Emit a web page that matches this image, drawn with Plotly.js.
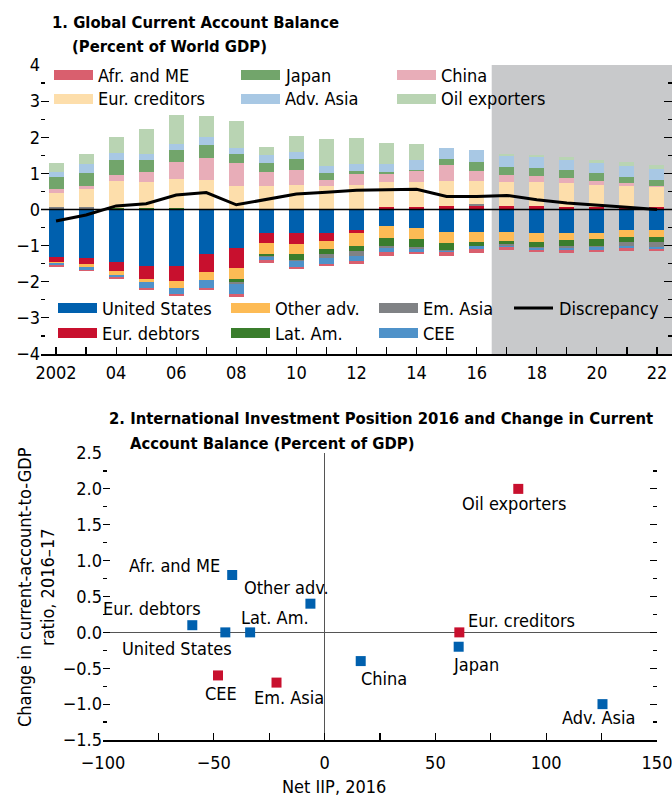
<!DOCTYPE html>
<html>
<head>
<meta charset="utf-8">
<script src="https://cdn.plot.ly/plotly-3.0.1.min.js"></script>
<style>html,body{margin:0;padding:0;background:#fff;}#chart{width:672px;height:797px;}</style>
</head>
<body>
<div id="chart"></div>
<script>
// ---------- Panel 1 data: Global current account balance (% of world GDP) ----------
const years = [2002,2003,2004,2005,2006,2007,2008,2009,2010,2011,2012,2013,2014,2015,2016,2017,2018,2019,2020,2021,2022];
const yearTickVals = [2002,2004,2006,2008,2010,2012,2014,2016,2018,2020,2022];
const yearTickText = ["2002","04","06","08","10","12","14","16","18","20","22"];

const unitedStates = [-1.32,-1.35,-1.46,-1.57,-1.57,-1.24,-1.07,-0.64,-0.66,-0.64,-0.58,-0.47,-0.50,-0.61,-0.61,-0.61,-0.64,-0.66,-0.64,-0.58,-0.58];
const eurDebtors   = [-0.13,-0.17,-0.23,-0.34,-0.42,-0.48,-0.54,-0.30,-0.30,-0.22,-0.06,0.06,0.08,0.11,0.11,0.11,0.11,0.08,0.06,0.06,0.06];
const otherAdv     = [-0.03,-0.08,-0.11,-0.11,-0.17,-0.22,-0.30,-0.30,-0.28,-0.22,-0.36,-0.33,-0.33,-0.33,-0.30,-0.25,-0.25,-0.19,-0.19,-0.19,-0.17];
const latAm        = [-0.01,0.00,0.03,0.05,0.05,0.01,-0.11,-0.06,-0.16,-0.16,-0.14,-0.22,-0.22,-0.18,-0.10,-0.10,-0.14,-0.17,-0.17,-0.14,-0.14];
const emAsia       = [0.06,0.08,0.02,0.00,0.00,0.00,-0.05,-0.02,-0.03,-0.09,-0.14,-0.05,-0.03,-0.03,0.03,-0.04,-0.03,-0.05,-0.05,-0.11,-0.14];
const cee          = [-0.05,-0.08,-0.08,-0.16,-0.18,-0.24,-0.26,-0.08,-0.17,-0.18,-0.14,-0.12,-0.10,-0.03,-0.08,-0.05,-0.05,-0.05,-0.07,-0.05,-0.05];
const afrME        = [-0.04,-0.01,-0.03,-0.04,-0.05,-0.04,-0.08,-0.08,-0.06,-0.06,-0.10,-0.10,-0.06,-0.11,-0.11,-0.07,-0.08,-0.08,-0.06,-0.07,-0.07];
const eurCreditors = [0.41,0.50,0.73,0.70,0.80,0.80,0.64,0.64,0.69,0.66,0.69,0.69,0.69,0.69,0.64,0.66,0.64,0.64,0.61,0.58,0.55];
const china        = [0.11,0.07,0.17,0.28,0.47,0.61,0.66,0.39,0.39,0.17,0.30,0.22,0.30,0.42,0.28,0.19,0.19,0.14,0.11,0.08,0.03];
const japan        = [0.33,0.37,0.42,0.33,0.33,0.36,0.25,0.25,0.33,0.19,0.08,0.06,0.03,0.19,0.25,0.22,0.22,0.22,0.22,0.19,0.19];
const advAsia      = [0.14,0.23,0.19,0.19,0.17,0.22,0.15,0.22,0.19,0.19,0.19,0.22,0.28,0.30,0.33,0.30,0.28,0.28,0.28,0.30,0.28];
const oilExporters = [0.23,0.30,0.44,0.69,0.80,0.58,0.74,0.22,0.44,0.75,0.72,0.58,0.42,0.00,0.00,0.06,0.08,0.08,0.10,0.10,0.11];
const discrepancy  = [-0.32,-0.15,0.10,0.16,0.40,0.47,0.13,0.27,0.43,0.48,0.53,0.55,0.56,0.36,0.36,0.39,0.27,0.18,0.11,0.06,0.00];
const projectionStart = 2016.5;

// ---------- Panel 2 data: Net IIP 2016 vs change in CA balance 2016-17 ----------
const groupNames = ["Oil exporters","Afr. and ME","Other adv.","Eur. debtors","United States","Lat. Am.","CEE","Em. Asia","China","Eur. creditors","Japan","Adv. Asia"];
const netIIP2016 = [87.4,-41.7,-6.4,-59.7,-44.8,-33.6,-48.1,-21.7,16.3,60.8,60.5,125.4];
const caChange   = [2.0,0.8,0.4,0.1,0.0,0.0,-0.6,-0.7,-0.4,0.0,-0.2,-1.0];
const redGroups  = ["Oil exporters","CEE","Em. Asia","Eur. creditors"];
const iipTickVals = [-100,-50,0,50,100,150];

// ---------- styles ----------
const W = 672, H = 797;
const FONT = "'DejaVu Sans Condensed','Liberation Sans Narrow',sans-serif";
const FS = 18;
const C = {
  us:'#0060ae', eurDeb:'#c8102e', otherAdv:'#fdbb55', latAm:'#3a7d2c', emAsia:'#808285',
  cee:'#4f92c9', afr:'#d95f6e', eurCred:'#fddeab', china:'#e8adb8', japan:'#72a56b',
  advAsia:'#a8c8e4', oil:'#b9d4b3', shade:'#c8c9cb'
};
const px = x => x / W;
const py = y => 1 - y / H;

const barSeries = [
  ['United States', unitedStates, C.us],
  ['Eur. debtors', eurDebtors, C.eurDeb],
  ['Other adv.', otherAdv, C.otherAdv],
  ['Lat. Am.', latAm, C.latAm],
  ['Em. Asia', emAsia, C.emAsia],
  ['CEE', cee, C.cee],
  ['Afr. and ME', afrME, C.afr],
  ['Eur. creditors', eurCreditors, C.eurCred],
  ['China', china, C.china],
  ['Japan', japan, C.japan],
  ['Adv. Asia', advAsia, C.advAsia],
  ['Oil exporters', oilExporters, C.oil]
];

const traces = barSeries.map(([name, vals, col]) => ({
  type:'bar', name:name, x:years, y:vals, width:0.5,
  marker:{color:col, line:{width:0}}, xaxis:'x', yaxis:'y', showlegend:false, hoverinfo:'name+y'
}));
traces.push({
  type:'scatter', mode:'lines', name:'Discrepancy', x:years, y:discrepancy,
  line:{color:'#000', width:3}, xaxis:'x', yaxis:'y', showlegend:false
});

function groupTrace(isRed){
  const xs=[], ys=[], ns=[];
  groupNames.forEach((n,i)=>{ if((redGroups.indexOf(n)>=0)===isRed){ xs.push(netIIP2016[i]); ys.push(caChange[i]); ns.push(n);} });
  return {type:'scatter', mode:'markers', x:xs, y:ys, text:ns, hoverinfo:'text+x+y',
    marker:{symbol:'square', size:10, color: isRed ? C.eurDeb : C.us, line:{width:0}},
    xaxis:'x2', yaxis:'y2', showlegend:false, cliponaxis:false};
}
traces.push(groupTrace(false));
traces.push(groupTrace(true));

// ---------- manual legends ----------
const shapes = [];
const annotations = [];
const txtFont = {family:FONT, size:FS, color:'#000'};
function legendBox(x0, yc, col, label){
  shapes.push({type:'rect', xref:'paper', yref:'paper', x0:px(x0), x1:px(x0+39), y0:py(yc+5), y1:py(yc-5),
    fillcolor:col, line:{width:0}, layer:'above'});
  annotations.push({xref:'paper', yref:'paper', x:px(x0+42), y:py(yc), xanchor:'left', yanchor:'middle',
    text:label, showarrow:false, font:txtFont});
}
// shaded projection area (below traces)
shapes.push({type:'rect', xref:'x', yref:'y domain', x0:projectionStart, x1:2022.5, y0:0, y1:1,
  fillcolor:C.shade, line:{width:0}, layer:'below'});
// zero line over bars
shapes.push({type:'line', xref:'x domain', yref:'y', x0:0, x1:1, y0:0, y1:0, line:{color:'#000', width:1.5}, layer:'above'});

legendBox(54, 75, C.afr, 'Afr. and ME');
legendBox(241, 75, C.japan, 'Japan');
legendBox(397, 75, C.china, 'China');
legendBox(54, 99, C.eurCred, 'Eur. creditors');
legendBox(241, 99, C.advAsia, 'Adv. Asia');
legendBox(397, 99, C.oil, 'Oil exporters');

legendBox(58, 308, C.us, 'United States');
legendBox(231, 308, C.otherAdv, 'Other adv.');
legendBox(379, 308, C.emAsia, 'Em. Asia');
legendBox(58, 333, C.eurDeb, 'Eur. debtors');
legendBox(231, 333, C.latAm, 'Lat. Am.');
legendBox(379, 333, C.cee, 'CEE');
shapes.push({type:'line', xref:'paper', yref:'paper', x0:px(514), x1:px(553), y0:py(308), y1:py(308),
  line:{color:'#000', width:3}, layer:'above'});
annotations.push({xref:'paper', yref:'paper', x:px(557), y:py(308), xanchor:'left', yanchor:'middle',
  text:'Discrepancy', showarrow:false, font:txtFont});

// titles
const titleFont = {family:FONT, size:16.5, color:'#000'};
annotations.push({xref:'paper', yref:'paper', x:px(50), y:py(23), xanchor:'left', yanchor:'middle',
  text:'<b>1. Global Current Account Balance</b>', showarrow:false, font:titleFont});
annotations.push({xref:'paper', yref:'paper', x:px(70), y:py(47), xanchor:'left', yanchor:'middle',
  text:'<b>(Percent of World GDP)</b>', showarrow:false, font:titleFont});
annotations.push({xref:'paper', yref:'paper', x:px(107), y:py(419), xanchor:'left', yanchor:'middle',
  text:'<b>2. International Investment Position 2016 and Change in Current</b>', showarrow:false, font:titleFont});
annotations.push({xref:'paper', yref:'paper', x:px(128), y:py(443), xanchor:'left', yanchor:'middle',
  text:'<b>Account Balance (Percent of GDP)</b>', showarrow:false, font:titleFont});

// axis titles of panel 2
annotations.push({xref:'paper', yref:'paper', x:px(24), y:py(587), xanchor:'center', yanchor:'middle', textangle:-90,
  text:'Change in current-account-to-GDP', showarrow:false, font:txtFont});
annotations.push({xref:'paper', yref:'paper', x:px(47), y:py(587), xanchor:'center', yanchor:'middle', textangle:-90,
  text:'ratio, 2016–17', showarrow:false, font:txtFont});
annotations.push({xref:'paper', yref:'paper', x:px(334), y:py(786), xanchor:'center', yanchor:'middle',
  text:'Net IIP, 2016', showarrow:false, font:txtFont});

// scatter point labels: [xanchor, xshift, yshift]
const labelPlacement = {
  'Oil exporters':['center',-4,-15],
  'Afr. and ME':['right',-10,9],
  'Other adv.':['left',-68,16],
  'Eur. debtors':['right',11,17],
  'United States':['right',9,-16],
  'Lat. Am.':['left',-11,15],
  'CEE':['center',3,-18],
  'Em. Asia':['left',-25,-15],
  'China':['left',-2,-17],
  'Japan':['left',-8,-18],
  'Eur. creditors':['left',7,12],
  'Adv. Asia':['right',35,-13]
};
groupNames.forEach((n,i)=>{
  const p = labelPlacement[n];
  annotations.push({xref:'x2', yref:'y2', x:netIIP2016[i], y:caChange[i], text:n, showarrow:false,
    xanchor:p[0], yanchor:'middle', xshift:p[1], yshift:p[2], font:txtFont});
});

const tickFont = {family:FONT, size:FS, color:'#000'};
const layout = {
  width:W, height:H, margin:{l:0,r:0,t:0,b:0}, paper_bgcolor:'#fff', plot_bgcolor:'rgba(0,0,0,0)',
  barmode:'relative', bargap:0, showlegend:false, font:{family:FONT, size:FS, color:'#000'},
  xaxis:{domain:[px(41),1], range:[2001.5,2022.5], anchor:'y', tickmode:'array', tickvals:yearTickVals, ticktext:yearTickText,
    ticks:'inside', ticklen:7, tickwidth:1.2, tickcolor:'#000', showline:true, linecolor:'#000', linewidth:1.5,
    showgrid:false, zeroline:false, tickfont:tickFont, ticklabelstandoff:2,
    minor:{dtick:1, tick0:2002, ticks:'inside', ticklen:7, tickwidth:1.2, tickcolor:'#000', showgrid:false}},
  yaxis:{domain:[py(354),py(65)], range:[-4,4], anchor:'x', dtick:1, ticks:'inside', ticklen:8, tickwidth:1.2, tickcolor:'#000',
    mirror:'ticks', showline:false, showgrid:false, zeroline:false, tickfont:tickFont,
    minor:{dtick:0.5, ticks:'inside', ticklen:4, tickwidth:1.2, tickcolor:'#000', showgrid:false}},
  xaxis2:{domain:[px(103),px(657)], range:[-100,150], anchor:'y2', tickmode:'array', tickvals:iipTickVals,
    ticks:'inside', ticklen:7, tickwidth:1.2, tickcolor:'#000',
    showline:true, linecolor:'#000', linewidth:1.5, showgrid:false, zeroline:true, zerolinecolor:'#555', zerolinewidth:1,
    tickfont:tickFont, ticklabelstandoff:6, ticklabeloverflow:'allow',
    minor:{dtick:25, tick0:0, ticks:'inside', ticklen:7, tickwidth:1.2, tickcolor:'#000', showgrid:false}},
  yaxis2:{domain:[py(740),py(453)], range:[-1.5,2.5], anchor:'x2', dtick:0.5, tickformat:'.1f', ticks:'inside', ticklen:7, tickwidth:1.2, tickcolor:'#000',
    mirror:'ticks', showline:false, showgrid:false, zeroline:true, zerolinecolor:'#555', zerolinewidth:1, tickfont:tickFont,
    minor:{dtick:0.25, ticks:'inside', ticklen:4, tickwidth:1.2, tickcolor:'#000', showgrid:false}},
  shapes:shapes, annotations:annotations
};

Plotly.newPlot('chart', traces, layout, {staticPlot:true, displayModeBar:false});
</script>
</body>
</html>
